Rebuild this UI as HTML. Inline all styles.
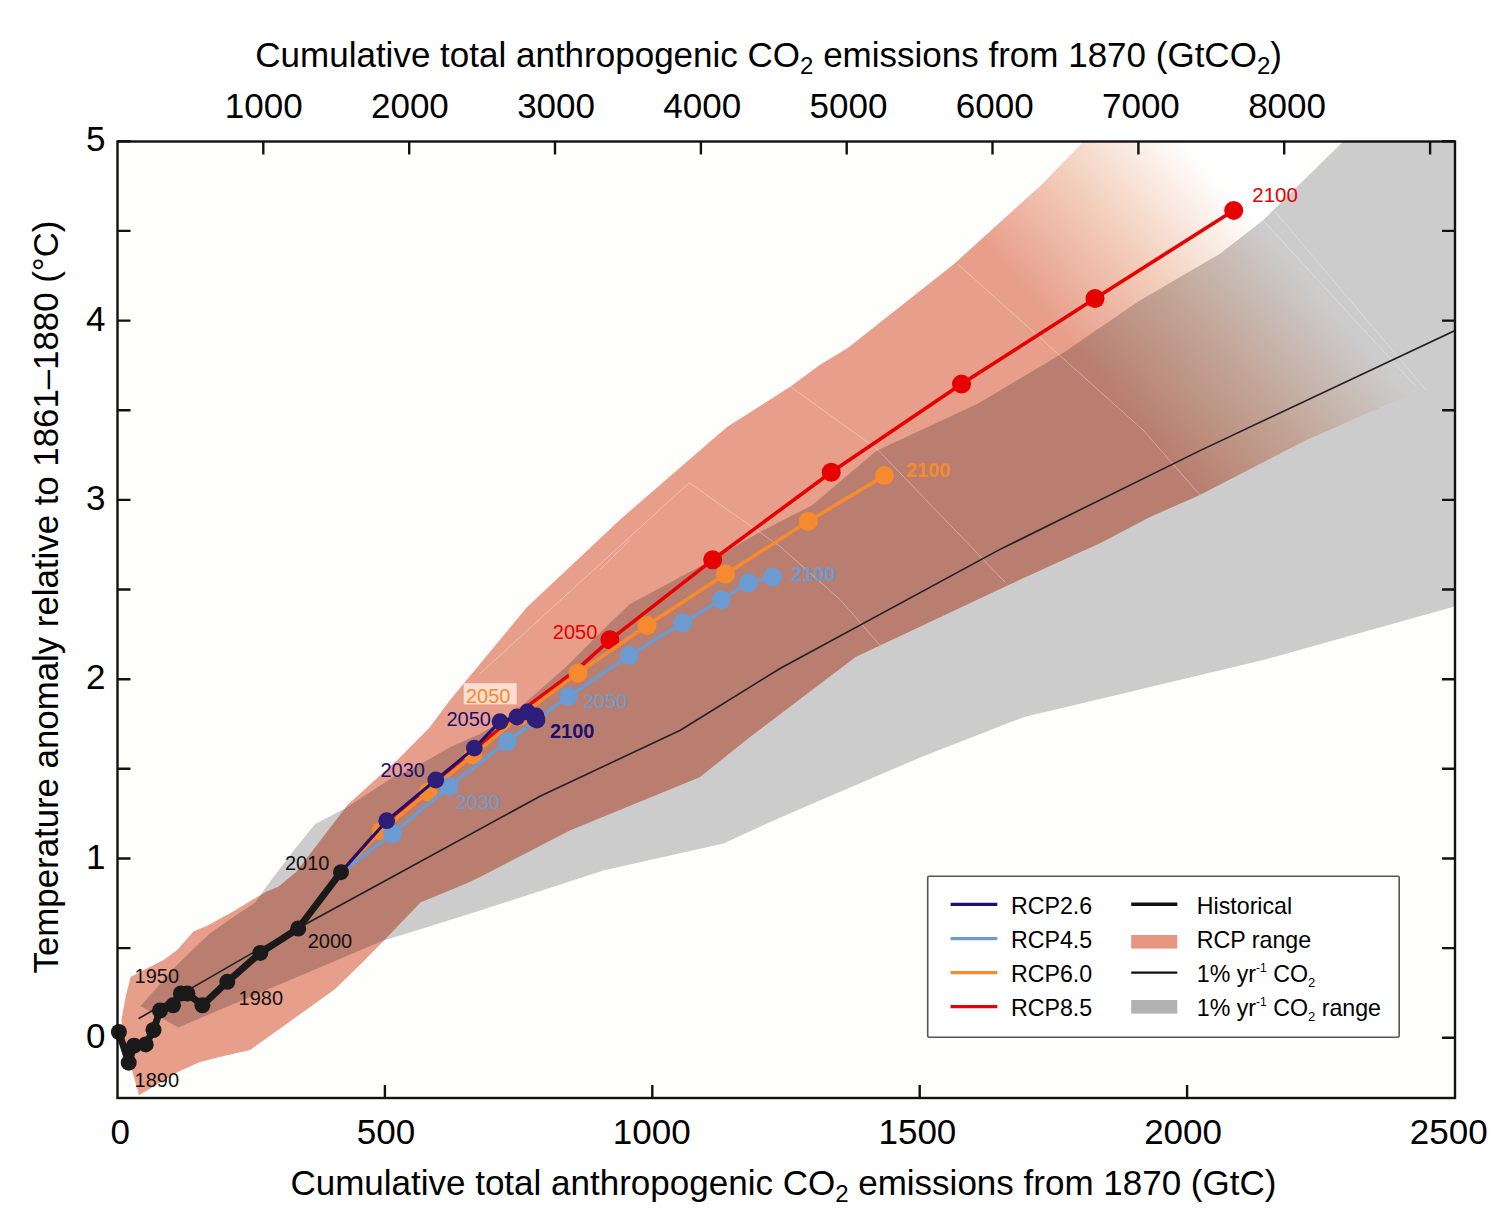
<!DOCTYPE html>
<html><head><meta charset="utf-8"><title>Cumulative emissions vs temperature</title>
<style>html,body{margin:0;padding:0;background:#fff;}svg{display:block;}</style></head>
<body><svg width="1508" height="1226" viewBox="0 0 1508 1226">
<defs>
<clipPath id="pc"><rect x="117.5" y="141.5" width="1337.5" height="956.5"/></clipPath>
<linearGradient id="fade" gradientUnits="userSpaceOnUse" x1="1175" y1="463" x2="1340" y2="318">
<stop offset="0" stop-color="#e79e8b"/><stop offset="0.5" stop-color="#f3cfbc"/><stop offset="1" stop-color="#ffffff"/></linearGradient>
</defs>
<rect x="0" y="0" width="1508" height="1226" fill="#ffffff"/>
<rect x="117.5" y="141.5" width="1337.5" height="956.5" fill="#fefefd"/>
<g clip-path="url(#pc)">
<polygon points="140.5,1006.0 177.4,964.5 209.4,933.7 232.2,917.7 255.0,902.8 268.0,884.3 294.0,850.0 315.3,824.0 346.2,807.7 393.6,776.7 413.0,768.5 450.0,747.3 480.0,734.0 510.0,716.0 533.0,696.0 567.0,666.0 613.0,620.0 630.0,604.0 700.0,566.5 760.0,532.1 812.5,505.0 876.2,450.9 978.1,403.5 1064.1,352.2 1139.0,300.9 1220.0,253.7 1262.8,220.4 1344.8,140.0 1460.0,140.0 1460.0,605.0 1454.6,606.6 1264.4,659.7 1150.0,687.0 1100.0,699.1 1024.1,717.0 921.3,757.0 800.0,809.0 750.0,831.2 723.6,843.6 604.2,870.2 480.0,910.6 425.3,927.7 382.8,940.8 178.3,1027.4" fill="#cccccc"/>
<polygon points="121.4,1020.0 126.0,995.3 130.6,977.1 140.8,971.4 163.7,960.0 177.4,949.7 193.4,931.4 207.1,925.7 232.2,912.0 249.3,901.7 266.5,891.4 278.0,886.9 296.2,872.0 347.9,804.4 396.8,760.4 429.4,727.7 450.0,700.0 527.1,607.0 621.3,518.5 727.0,427.0 789.8,387.1 820.0,364.7 847.7,348.0 953.1,264.8 1041.9,184.4 1085.0,140.0 1300.0,140.0 1340.0,300.0 1422.0,389.1 1305.5,440.5 1199.3,495.3 1150.0,517.0 1100.0,543.2 1007.0,585.7 855.6,657.0 750.0,737.0 699.7,777.3 569.8,830.4 480.0,877.1 466.3,883.4 420.4,902.4 384.5,939.9 364.9,960.0 334.6,989.5 250.0,1050.0 217.5,1057.5 200.0,1062.1 178.3,1071.8 139.0,1095.3 123.7,1040.0" fill="url(#fade)" style="mix-blend-mode:multiply"/>
<polyline points="480.0,673.6 689.2,482.8 780.0,546.4 840.5,600.0 879.8,645.2" fill="none" stroke="#ffffff" stroke-opacity="0.35" stroke-width="1"/>
<polyline points="789.3,385.8 877.0,449.0 1005.0,582.0" fill="none" stroke="#ffffff" stroke-opacity="0.35" stroke-width="1"/>
<polyline points="956.8,263.3 1143.0,430.0 1200.0,495.0" fill="none" stroke="#ffffff" stroke-opacity="0.35" stroke-width="1"/>
<polyline points="1275.3,211.9 1426.0,390.0" fill="none" stroke="#ffffff" stroke-opacity="0.35" stroke-width="1"/>
<polyline points="1261.6,218.8 1415.8,386.6" fill="none" stroke="#ffffff" stroke-opacity="0.35" stroke-width="1"/>
<polyline points="600.0,570.0 629.8,540.0" fill="none" stroke="#ffffff" stroke-opacity="0.35" stroke-width="1"/>
<polyline points="139.2,1018.3 250.0,954.4 386.6,880.0 540.0,796.3 680.3,730.2 780.0,668.5 1000.0,549.4 1200.0,450.6 1455.0,330.5" fill="none" stroke="#222" stroke-width="1.6" stroke-linejoin="round" stroke-linecap="round"/>
<polyline points="341.0,872.2 381.0,827.0 428.0,788.0 473.0,751.0 520.0,712.0 578.0,668.6 609.9,639.8 712.7,559.8 831.2,472.2 961.5,384.1 1095.0,298.5 1233.7,210.4" fill="none" stroke="#e60000" stroke-width="3.6" stroke-linejoin="round" stroke-linecap="round"/>
<circle cx="609.9" cy="639.8" r="9.5" fill="#e60000"/><circle cx="712.7" cy="559.8" r="9.5" fill="#e60000"/><circle cx="831.2" cy="472.2" r="9.5" fill="#e60000"/><circle cx="961.5" cy="384.1" r="9.5" fill="#e60000"/><circle cx="1095.0" cy="298.5" r="9.5" fill="#e60000"/><circle cx="1233.7" cy="210.4" r="9.5" fill="#e60000"/>
<polyline points="341.0,872.2 381.0,831.0 428.0,792.0 473.0,755.0 520.0,716.0 577.9,673.1 647.0,625.5 725.5,574.1 808.3,521.3 884.4,475.6" fill="none" stroke="#f58a2e" stroke-width="3.6" stroke-linejoin="round" stroke-linecap="round"/>
<circle cx="381.0" cy="831.0" r="9.5" fill="#f58a2e"/><circle cx="428.0" cy="792.0" r="9.5" fill="#f58a2e"/><circle cx="473.0" cy="755.0" r="9.5" fill="#f58a2e"/><circle cx="520.0" cy="716.0" r="9.5" fill="#f58a2e"/><circle cx="577.9" cy="673.1" r="9.5" fill="#f58a2e"/><circle cx="647.0" cy="625.5" r="9.5" fill="#f58a2e"/><circle cx="725.5" cy="574.1" r="9.5" fill="#f58a2e"/><circle cx="808.3" cy="521.3" r="9.5" fill="#f58a2e"/><circle cx="884.4" cy="475.6" r="9.5" fill="#f58a2e"/>
<polyline points="341.0,872.2 392.7,833.8 449.1,786.6 507.4,741.5 568.4,696.4 629.3,655.5 682.7,622.7 721.2,599.8 748.4,582.7 772.6,577.0" fill="none" stroke="#6b9bd0" stroke-width="3.6" stroke-linejoin="round" stroke-linecap="round"/>
<circle cx="392.7" cy="833.8" r="9.5" fill="#6b9bd0"/><circle cx="449.1" cy="786.6" r="9.5" fill="#6b9bd0"/><circle cx="507.4" cy="741.5" r="9.5" fill="#6b9bd0"/><circle cx="568.4" cy="696.4" r="9.5" fill="#6b9bd0"/><circle cx="629.3" cy="655.5" r="9.5" fill="#6b9bd0"/><circle cx="682.7" cy="622.7" r="9.5" fill="#6b9bd0"/><circle cx="721.2" cy="599.8" r="9.5" fill="#6b9bd0"/><circle cx="748.4" cy="582.7" r="9.5" fill="#6b9bd0"/><circle cx="772.6" cy="577.0" r="9.5" fill="#6b9bd0"/>
<polyline points="341.0,872.2 386.7,820.7 435.8,780.0 474.3,748.1 500.0,721.6 517.0,717.0 527.5,712.0 536.0,716.0 535.0,719.0 537.0,720.0" fill="none" stroke="#1c0e74" stroke-width="3.0" stroke-linejoin="round" stroke-linecap="round"/>
<circle cx="386.7" cy="820.7" r="8.4" fill="#2e1e7a"/><circle cx="435.8" cy="780.0" r="8.4" fill="#2e1e7a"/><circle cx="474.3" cy="748.1" r="8.4" fill="#2e1e7a"/><circle cx="500.0" cy="721.6" r="8.4" fill="#2e1e7a"/><circle cx="517.0" cy="717.0" r="8.4" fill="#2e1e7a"/><circle cx="527.5" cy="712.0" r="8.4" fill="#2e1e7a"/><circle cx="536.0" cy="716.0" r="8.4" fill="#2e1e7a"/><circle cx="535.0" cy="719.0" r="8.4" fill="#2e1e7a"/><circle cx="537.0" cy="720.0" r="8.4" fill="#2e1e7a"/>
</g>
<polyline points="118.9,1032.0 128.7,1062.7 134.0,1045.7 145.7,1044.4 153.5,1030.0 160.0,1010.5 173.1,1005.3 180.9,993.5 187.4,993.5 202.4,1005.3 227.3,981.8 260.3,952.9 298.2,928.5 341.0,872.2" fill="none" stroke="#1a1a1a" stroke-width="7" stroke-linejoin="round" stroke-linecap="round"/>
<circle cx="118.9" cy="1032.0" r="8" fill="#1a1a1a"/><circle cx="128.7" cy="1062.7" r="8" fill="#1a1a1a"/><circle cx="134.0" cy="1045.7" r="8" fill="#1a1a1a"/><circle cx="145.7" cy="1044.4" r="8" fill="#1a1a1a"/><circle cx="153.5" cy="1030.0" r="8" fill="#1a1a1a"/><circle cx="160.0" cy="1010.5" r="8" fill="#1a1a1a"/><circle cx="173.1" cy="1005.3" r="8" fill="#1a1a1a"/><circle cx="180.9" cy="993.5" r="8" fill="#1a1a1a"/><circle cx="187.4" cy="993.5" r="8" fill="#1a1a1a"/><circle cx="202.4" cy="1005.3" r="8" fill="#1a1a1a"/><circle cx="227.3" cy="981.8" r="8" fill="#1a1a1a"/><circle cx="260.3" cy="952.9" r="8" fill="#1a1a1a"/><circle cx="298.2" cy="928.5" r="8" fill="#1a1a1a"/><circle cx="341.0" cy="872.2" r="8" fill="#1a1a1a"/>
<rect x="117.5" y="141.5" width="1337.5" height="956.5" fill="none" stroke="#111" stroke-width="2.4"/>
<path d="M1455,1037.8h-13M117.5,948.1h13M1455,948.1h-13M117.5,858.5h13M1455,858.5h-13M117.5,768.8h13M1455,768.8h-13M117.5,679.2h13M1455,679.2h-13M117.5,589.5h13M1455,589.5h-13M117.5,499.9h13M1455,499.9h-13M117.5,410.2h13M1455,410.2h-13M117.5,320.6h13M1455,320.6h-13M117.5,230.9h13M1455,230.9h-13M117.5,141.3h13M1455,141.3h-13M384.9,1098v-13M652.3,1098v-13M919.7,1098v-13M1187.1,1098v-13M263.3,141.5v13M409.2,141.5v13M555.0,141.5v13M700.9,141.5v13M846.7,141.5v13M992.5,141.5v13M1138.4,141.5v13M1284.2,141.5v13M1430.1,141.5v13" stroke="#111" stroke-width="2.4" fill="none"/>
<text x="105.5" y="1047.8" font-family="Liberation Sans, Arial, sans-serif" font-size="35" text-anchor="end" fill="#000">0</text>
<text x="105.5" y="868.5" font-family="Liberation Sans, Arial, sans-serif" font-size="35" text-anchor="end" fill="#000">1</text>
<text x="105.5" y="689.2" font-family="Liberation Sans, Arial, sans-serif" font-size="35" text-anchor="end" fill="#000">2</text>
<text x="105.5" y="509.9" font-family="Liberation Sans, Arial, sans-serif" font-size="35" text-anchor="end" fill="#000">3</text>
<text x="105.5" y="330.6" font-family="Liberation Sans, Arial, sans-serif" font-size="35" text-anchor="end" fill="#000">4</text>
<text x="105.5" y="151.3" font-family="Liberation Sans, Arial, sans-serif" font-size="35" text-anchor="end" fill="#000">5</text>
<text x="120.3" y="1144" font-family="Liberation Sans, Arial, sans-serif" font-size="35" text-anchor="middle" fill="#000">0</text>
<text x="386.0" y="1144" font-family="Liberation Sans, Arial, sans-serif" font-size="35" text-anchor="middle" fill="#000">500</text>
<text x="651.7" y="1144" font-family="Liberation Sans, Arial, sans-serif" font-size="35" text-anchor="middle" fill="#000">1000</text>
<text x="917.4" y="1144" font-family="Liberation Sans, Arial, sans-serif" font-size="35" text-anchor="middle" fill="#000">1500</text>
<text x="1183.1" y="1144" font-family="Liberation Sans, Arial, sans-serif" font-size="35" text-anchor="middle" fill="#000">2000</text>
<text x="1448.8" y="1144" font-family="Liberation Sans, Arial, sans-serif" font-size="35" text-anchor="middle" fill="#000">2500</text>
<text x="263.7" y="117.5" font-family="Liberation Sans, Arial, sans-serif" font-size="35" text-anchor="middle" fill="#000">1000</text>
<text x="409.9" y="117.5" font-family="Liberation Sans, Arial, sans-serif" font-size="35" text-anchor="middle" fill="#000">2000</text>
<text x="556.1" y="117.5" font-family="Liberation Sans, Arial, sans-serif" font-size="35" text-anchor="middle" fill="#000">3000</text>
<text x="702.3" y="117.5" font-family="Liberation Sans, Arial, sans-serif" font-size="35" text-anchor="middle" fill="#000">4000</text>
<text x="848.5" y="117.5" font-family="Liberation Sans, Arial, sans-serif" font-size="35" text-anchor="middle" fill="#000">5000</text>
<text x="994.7" y="117.5" font-family="Liberation Sans, Arial, sans-serif" font-size="35" text-anchor="middle" fill="#000">6000</text>
<text x="1140.9" y="117.5" font-family="Liberation Sans, Arial, sans-serif" font-size="35" text-anchor="middle" fill="#000">7000</text>
<text x="1287.1" y="117.5" font-family="Liberation Sans, Arial, sans-serif" font-size="35" text-anchor="middle" fill="#000">8000</text>
<text x="768.6" y="67.2" font-family="Liberation Sans, Arial, sans-serif" font-size="35" text-anchor="middle" fill="#000">Cumulative total anthropogenic CO<tspan font-size="24" dy="7">2</tspan><tspan dy="-7"> emissions from 1870 (GtCO</tspan><tspan font-size="24" dy="7">2</tspan><tspan dy="-7">)</tspan></text>
<text x="783.4" y="1195.4" font-family="Liberation Sans, Arial, sans-serif" font-size="35" text-anchor="middle" fill="#000">Cumulative total anthropogenic CO<tspan font-size="24" dy="7">2</tspan><tspan dy="-7"> emissions from 1870 (GtC)</tspan></text>
<text transform="translate(57.5,597) rotate(-90)" font-family="Liberation Sans, Arial, sans-serif" font-size="34.8" text-anchor="middle" fill="#000">Temperature anomaly relative to 1861–1880 (°C)</text>
<text x="134.6" y="1087" font-family="Liberation Sans, Arial, sans-serif" font-size="20" fill="#111">1890</text>
<text x="134.6" y="983" font-family="Liberation Sans, Arial, sans-serif" font-size="20" fill="#111">1950</text>
<text x="238.6" y="1005" font-family="Liberation Sans, Arial, sans-serif" font-size="20" fill="#111">1980</text>
<text x="307.7" y="947.5" font-family="Liberation Sans, Arial, sans-serif" font-size="20" fill="#111">2000</text>
<text x="285" y="870" font-family="Liberation Sans, Arial, sans-serif" font-size="20" fill="#111">2010</text>
<text x="380.5" y="777" font-family="Liberation Sans, Arial, sans-serif" font-size="20" fill="#1c0e74">2030</text>
<text x="446.4" y="726" font-family="Liberation Sans, Arial, sans-serif" font-size="20" fill="#1c0e74">2050</text>
<text x="549.9" y="738" font-family="Liberation Sans, Arial, sans-serif" font-size="20" font-weight="bold" fill="#1c0e74">2100</text>
<rect x="463.7" y="683.2" width="53" height="21.2" fill="#fbe3d8" opacity="0.9"/>
<text x="466" y="703" font-family="Liberation Sans, Arial, sans-serif" font-size="20" fill="#f58a2e">2050</text>
<text x="583" y="708" font-family="Liberation Sans, Arial, sans-serif" font-size="20" fill="#6b9bd0">2050</text>
<text x="455.7" y="809" font-family="Liberation Sans, Arial, sans-serif" font-size="20" fill="#6b9bd0">2030</text>
<text x="552.8" y="638.5" font-family="Liberation Sans, Arial, sans-serif" font-size="20" fill="#e60000">2050</text>
<text x="1252.3" y="201.5" font-family="Liberation Sans, Arial, sans-serif" font-size="20.5" fill="#e60000">2100</text>
<text x="906" y="477" font-family="Liberation Sans, Arial, sans-serif" font-size="20" font-weight="bold" fill="#f58a2e">2100</text>
<text x="791.2" y="581" font-family="Liberation Sans, Arial, sans-serif" font-size="20" font-weight="bold" fill="#6b9bd0">2100</text>
<rect x="927.7" y="876.3" width="471.5" height="161" rx="1.5" fill="#ffffff" stroke="#555" stroke-width="1.6"/>
<line x1="950.6" y1="904.3" x2="997.3" y2="904.3" stroke="#1c0e74" stroke-width="3.2"/>
<line x1="950.6" y1="938.6" x2="997.3" y2="938.6" stroke="#6b9bd0" stroke-width="3.2"/>
<line x1="950.6" y1="972.7" x2="997.3" y2="972.7" stroke="#f58a2e" stroke-width="3.2"/>
<line x1="950.6" y1="1006.6" x2="997.3" y2="1006.6" stroke="#e60000" stroke-width="3.2"/>
<text x="1011" y="913.5999999999999" font-family="Liberation Sans, Arial, sans-serif" font-size="23.2" fill="#000">RCP2.6</text>
<text x="1011" y="947.9" font-family="Liberation Sans, Arial, sans-serif" font-size="23.2" fill="#000">RCP4.5</text>
<text x="1011" y="982.0" font-family="Liberation Sans, Arial, sans-serif" font-size="23.2" fill="#000">RCP6.0</text>
<text x="1011" y="1015.9" font-family="Liberation Sans, Arial, sans-serif" font-size="23.2" fill="#000">RCP8.5</text>
<line x1="1131.2" y1="904.3" x2="1177.3" y2="904.3" stroke="#111" stroke-width="3.4"/>
<rect x="1131.2" y="935" width="46.1" height="13.6" fill="#e8967f"/>
<line x1="1131.2" y1="972.7" x2="1177.3" y2="972.7" stroke="#111" stroke-width="2.2"/>
<rect x="1131.2" y="1000" width="46.1" height="13.6" fill="#b2b2b2"/>
<text x="1196.8" y="913.5999999999999" font-family="Liberation Sans, Arial, sans-serif" font-size="23.2" fill="#000">Historical</text>
<text x="1196.8" y="947.9" font-family="Liberation Sans, Arial, sans-serif" font-size="23.2" fill="#000">RCP range</text>
<text x="1196.8" y="982.0" font-family="Liberation Sans, Arial, sans-serif" font-size="23.2" fill="#000">1% yr<tspan font-size="12" dy="-10">-1</tspan><tspan dy="10"> CO</tspan><tspan font-size="13" dy="5">2</tspan></text>
<text x="1196.8" y="1015.9" font-family="Liberation Sans, Arial, sans-serif" font-size="23.2" fill="#000">1% yr<tspan font-size="12" dy="-10">-1</tspan><tspan dy="10"> CO</tspan><tspan font-size="13" dy="5">2</tspan><tspan dy="-5"> range</tspan></text>
</svg></body></html>
